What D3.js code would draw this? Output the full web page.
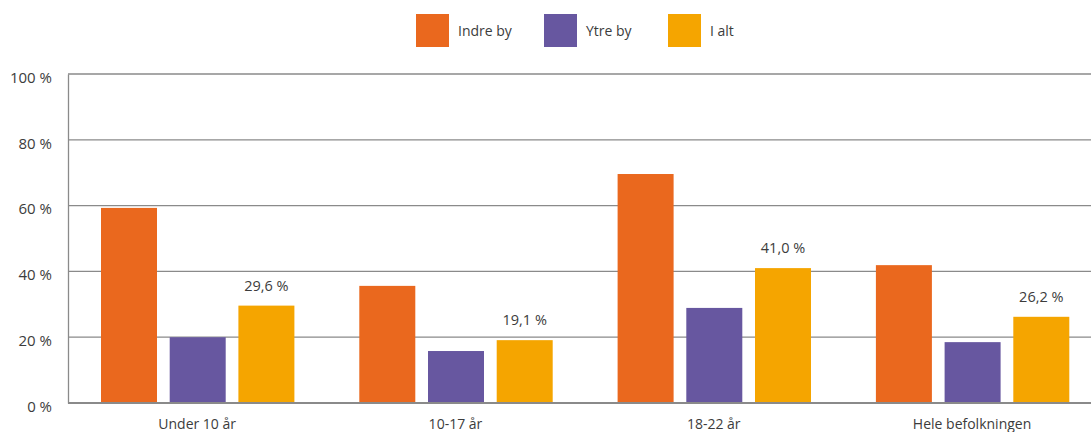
<!DOCTYPE html>
<html>
<head>
<meta charset="utf-8">
<script src="https://cdn.jsdelivr.net/npm/d3@7"></script>
<style>
	body { margin: 0; background: #fff; }
	text { font-family: "Open Sans", "DejaVu Sans", sans-serif; fill: #3c3c3c; }
</style>
</head>
<body>
<div id="chart"></div>
<script>
// données
var categories = ["Under 10 år", "10-17 år", "18-22 år", "Hele befolkningen"]
var series = ["Indre by", "Ytre by", "I alt"]
var indreBy = [59.3, 35.6, 69.6, 41.9]
var ytreBy = [20.0, 15.8, 28.9, 18.5]
var iAlt = [29.6, 19.1, 41.0, 26.2]
var yTicks = [0, 20, 40, 60, 80, 100]

var colors = ["#ea681e", "#6757a0", "#f5a500"]
var values = [indreBy, ytreBy, iAlt]

var width = 1091
var height = 432
var margeGauche = 68
var margeHaut = 74
var margeBas = 403

var svg = d3.select("#chart").append("svg")
	.attr("width", width)
	.attr("height", height)

var x = d3.scaleBand()
	.domain(categories)
	.range([margeGauche, margeGauche + 4 * 258.3])
	.paddingInner(0).paddingOuter(0)

// barres de 56 px, pas de 68,7 px
var x1 = d3.scaleBand()
	.domain(series)
	.range([33, 33 + 2 * 68.7 + 56])
	.paddingInner(12.7 / 68.7)
	.paddingOuter(0)

var y = d3.scaleLinear()
	.domain([0, 100])
	.range([margeBas, margeHaut])

// grille
svg.append("g")
	.selectAll("line")
	.data(yTicks.filter(d => d > 0))
	.enter()
	.append("line")
	.attr("x1", margeGauche)
	.attr("x2", width)
	.attr("y1", d => y(d))
	.attr("y2", d => y(d))
	.attr("stroke", "#8a8a8a")
	.attr("stroke-width", 1.3)

// axe y
var yAxis = svg.append("g")
	.attr("transform", "translate(" + margeGauche + ",0)")
	.call(d3.axisLeft(y).tickValues(yTicks).tickSize(0).tickPadding(16).tickFormat(d => d + " %"))
yAxis.select(".domain").attr("stroke", "#8a8a8a").attr("stroke-width", 1.3)
yAxis.selectAll("text")
	.attr("font-size", "15px")
	.attr("dy", "0.55em")
	.attr("fill", "#3c3c3c")
	.style("font-family", "'Open Sans', sans-serif")

// barres
var groups = svg.append("g")
	.selectAll("g")
	.data(categories)
	.enter()
	.append("g")
	.attr("transform", d => "translate(" + x(d) + ",0)")

groups.selectAll("rect")
	.data((d, i) => series.map((s, j) => ({ s: s, v: values[j][i], c: colors[j] })))
	.enter()
	.append("rect")
	.attr("x", d => x1(d.s))
	.attr("width", x1.bandwidth())
	.attr("y", d => y(d.v))
	.attr("height", d => margeBas - y(d.v))
	.attr("fill", d => d.c)

// étiquettes "I alt"
groups.append("text")
	.attr("x", x1("I alt") + x1.bandwidth() / 2)
	.attr("y", (d, i) => y(iAlt[i]) - 15)
	.attr("text-anchor", "middle")
	.attr("font-size", "14.5px")
	.text((d, i) => iAlt[i].toFixed(1).replace(".", ",") + " %")

// axe x (ligne de base)
var xAxis = svg.append("g")
	.attr("transform", "translate(0," + margeBas + ")")
	.call(d3.axisBottom(x).tickSize(0).tickPadding(16))
xAxis.select(".domain").remove()
svg.append("line")
	.attr("x1", margeGauche).attr("x2", width)
	.attr("y1", margeBas).attr("y2", margeBas)
	.attr("stroke", "#8a8a8a")
	.attr("stroke-width", 2)
xAxis.selectAll("text")
	.attr("font-size", "14px")
	.attr("fill", "#3c3c3c")
	.style("font-family", "'Open Sans', sans-serif")

// légende
var legend = svg.append("g")
	.selectAll("g")
	.data(series)
	.enter()
	.append("g")
	.attr("transform", (d, i) => "translate(" + [416, 544, 668][i] + ",14)")

legend.append("rect")
	.attr("width", 33)
	.attr("height", 33)
	.attr("fill", (d, i) => colors[i])

legend.append("text")
	.attr("x", 42)
	.attr("y", 22)
	.attr("font-size", "14px")
	.text(d => d)
</script>
</body>
</html>
